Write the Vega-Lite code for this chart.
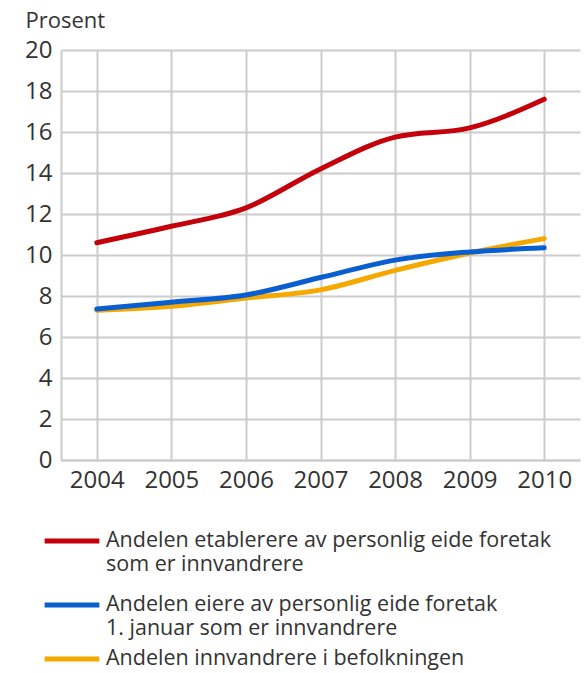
{
  "$schema": "https://vega.github.io/schema/vega-lite/v6.json",
  "width": 519,
  "height": 410,
  "autosize": {"type": "none"},
  "padding": {"left": 61, "top": 50, "right": 6, "bottom": 213},
  "background": "white",
  "config": {
    "font": "Open Sans",
    "view": {"stroke": null}
  },
  "data": {
    "values": [
      {"year": 2004, "series": "A", "value": 10.6},
      {"year": 2005, "series": "A", "value": 11.4},
      {"year": 2006, "series": "A", "value": 12.3},
      {"year": 2007, "series": "A", "value": 14.2},
      {"year": 2008, "series": "A", "value": 15.75},
      {"year": 2009, "series": "A", "value": 16.2},
      {"year": 2010, "series": "A", "value": 17.6},
      {"year": 2004, "series": "B", "value": 7.37},
      {"year": 2005, "series": "B", "value": 7.7},
      {"year": 2006, "series": "B", "value": 8.05},
      {"year": 2007, "series": "B", "value": 8.9},
      {"year": 2008, "series": "B", "value": 9.75},
      {"year": 2009, "series": "B", "value": 10.15},
      {"year": 2010, "series": "B", "value": 10.35},
      {"year": 2004, "series": "C", "value": 7.3},
      {"year": 2005, "series": "C", "value": 7.5},
      {"year": 2006, "series": "C", "value": 7.9},
      {"year": 2007, "series": "C", "value": 8.3},
      {"year": 2008, "series": "C", "value": 9.25},
      {"year": 2009, "series": "C", "value": 10.1},
      {"year": 2010, "series": "C", "value": 10.8}
    ]
  },
  "encoding": {
    "x": {
      "field": "year", "type": "quantitative",
      "scale": {"domain": [2003.52, 2010.48], "nice": false, "zero": false},
      "axis": {
        "title": null, "values": [2004, 2005, 2006, 2007, 2008, 2009, 2010], "format": "d",
        "ticks": false, "labelPadding": 8, "labelFontSize": 24, "labelColor": "#333333",
        "labelFont": "Open Sans",
        "domainColor": "#cccccc", "domainWidth": 2,
        "grid": true, "gridColor": "#cccccc", "gridWidth": 2, "labelFlush": false
      }
    },
    "y": {
      "field": "value", "type": "quantitative",
      "scale": {"domain": [0, 20], "nice": false},
      "axis": {
        "title": "Prosent", "titleAngle": 0, "titleX": -36, "titleY": -23,
        "titleAlign": "left", "titleBaseline": "alphabetic", "titleFontSize": 22,
        "titleFontWeight": "normal", "titleColor": "#333333", "titleFont": "Open Sans",
        "values": [0, 2, 4, 6, 8, 10, 12, 14, 16, 18, 20],
        "ticks": false, "labelPadding": 9, "labelFontSize": 24, "labelColor": "#333333",
        "labelFont": "Open Sans", "labelFlush": false,
        "domainColor": "#cccccc", "domainWidth": 2,
        "grid": true, "gridColor": "#cccccc", "gridWidth": 2
      }
    }
  },
  "layer": [
    {
      "transform": [{"filter": "datum.series == 'C'"}],
      "mark": {"type": "line", "strokeWidth": 5, "interpolate": "monotone", "strokeCap": "round"},
      "encoding": {
        "stroke": {
          "field": "series", "type": "nominal",
          "scale": {"domain": ["C"], "range": ["#f5a800"]},
          "legend": {
            "title": null, "orient": "none", "legendX": -19, "legendY": 579,
            "direction": "vertical",
            "symbolType": "stroke", "symbolStrokeWidth": 5, "symbolSize": 3000,
            "labelFontSize": 21.5, "labelColor": "#333333", "labelFont": "Open Sans",
            "labelOffset": 4, "labelBaseline": "middle", "labelLimit": 600,
            "labelExpr": "'Andelen innvandrere i befolkningen'"
          }
        }
      }
    },
    {
      "transform": [{"filter": "datum.series != 'C'"}],
      "mark": {"type": "line", "strokeWidth": 5, "interpolate": "monotone", "strokeCap": "round"},
      "encoding": {
        "color": {
          "field": "series", "type": "nominal",
          "scale": {"domain": ["A", "B"], "range": ["#c4000a", "#0a5fd0"]},
          "legend": {
            "title": null, "orient": "none", "legendX": -19, "legendY": 461,
            "direction": "vertical",
            "symbolType": "stroke", "symbolStrokeWidth": 5, "symbolSize": 3000,
            "labelFontSize": 21.5, "labelColor": "#333333", "labelFont": "Open Sans",
            "labelOffset": 4, "labelBaseline": "middle", "labelLimit": 600,
            "labelExpr": "datum.label == 'A' ? ['Andelen etablerere av personlig eide foretak', 'som er innvandrere'] : ['Andelen eiere av personlig eide foretak', '1. januar som er innvandrere']",
            "labelLineHeight": 27,
            "rowPadding": -7
          }
        }
      }
    }
  ]
}
